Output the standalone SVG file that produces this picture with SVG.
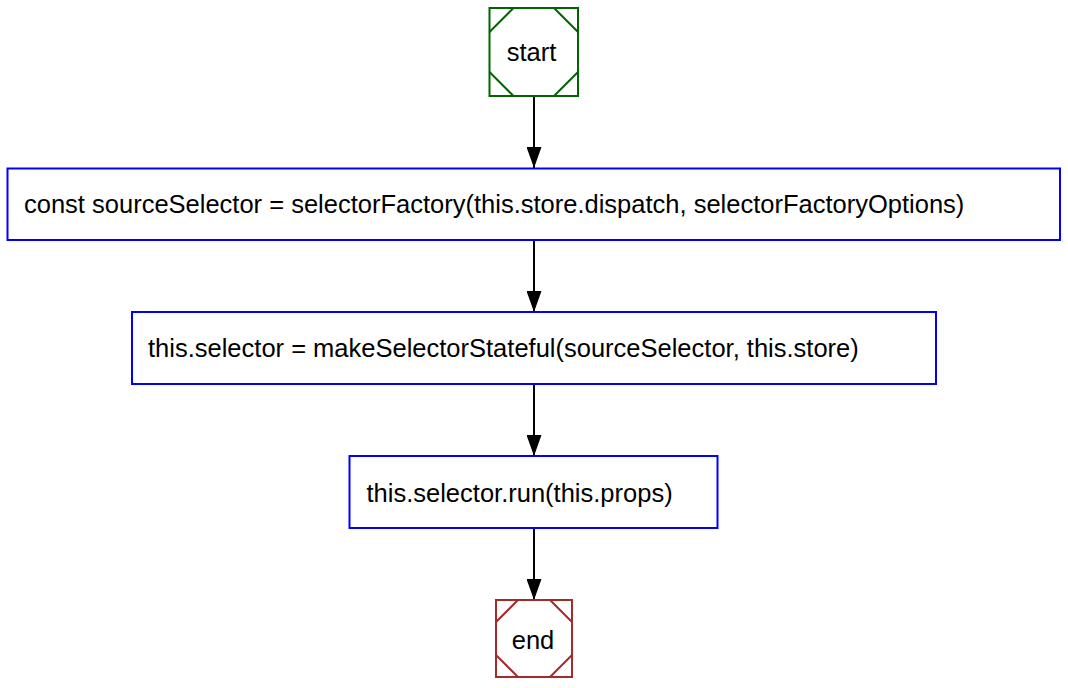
<svg xmlns="http://www.w3.org/2000/svg" width="1068" height="688" viewBox="0 0 1068 688">
<style>
text{font-family:"Liberation Sans",Arial,Helvetica,sans-serif;font-size:25.5px;fill:#000}
.box{fill:#fff;stroke:#0000ff;stroke-width:2}
.edge{stroke:#000;stroke-width:2;fill:none}
.st{fill:#fff;stroke:#006400;stroke-width:2}
.en{fill:#fff;stroke:#a52a2a;stroke-width:2}
</style>
<defs>
<marker id="arr" viewBox="0 0 21 15" refX="21" refY="7.5" markerWidth="21" markerHeight="15" markerUnits="userSpaceOnUse" orient="auto">
<polygon points="0,0 21,7.5 0,15" fill="#000"/>
</marker>
</defs>
<rect width="1068" height="688" fill="#fff"/>
<g id="connectors">
<line class="edge" x1="534" y1="96" x2="534" y2="168" marker-end="url(#arr)"/>
<line class="edge" x1="534" y1="240" x2="534" y2="312" marker-end="url(#arr)"/>
<line class="edge" x1="534" y1="384" x2="534" y2="456" marker-end="url(#arr)"/>
<line class="edge" x1="534" y1="528" x2="534" y2="600" marker-end="url(#arr)"/>
</g>
<g id="start">
<rect class="st" x="489.5" y="8" width="88.5" height="88"/>
<path class="st" d="M489.5,32 L513.5,8 M554,8 L578,32 M578,72 L554,96 M513.5,96 L489.5,72"/>
<text x="531.5" y="61" text-anchor="middle">start</text>
</g>
<g id="n1">
<rect class="box" x="7.5" y="168.5" width="1052.5" height="71.5"/>
<text x="24" y="213">const sourceSelector = selectorFactory(this.store.dispatch, selectorFactoryOptions)</text>
</g>
<g id="n2">
<rect class="box" x="132" y="312" width="804" height="72"/>
<text x="148" y="357">this.selector = makeSelectorStateful(sourceSelector, this.store)</text>
</g>
<g id="n3">
<rect class="box" x="349.5" y="456" width="368" height="72"/>
<text x="366.5" y="501.5">this.selector.run(this.props)</text>
</g>
<g id="end">
<rect class="en" x="496" y="600" width="76" height="77"/>
<path class="en" d="M496,622 L518,600 M550,600 L572,622 M572,655 L550,677 M518,677 L496,655"/>
<text x="533" y="648.5" text-anchor="middle">end</text>
</g>
</svg>
